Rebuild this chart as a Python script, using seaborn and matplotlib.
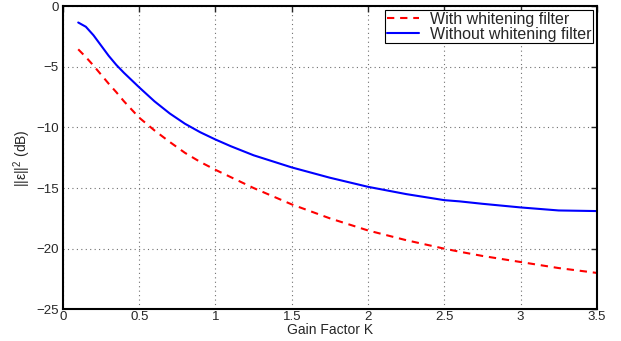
import numpy as np
import pandas as pd
import matplotlib
matplotlib.use("Agg")
import matplotlib.pyplot as plt
import seaborn as sns

# gain factor K (same grid for both curves)
gain_k = [0.1, 0.15, 0.2, 0.25, 0.3, 0.35, 0.4, 0.5, 0.6, 0.7, 0.8, 0.9, 1.0, 1.1,
          1.25, 1.5, 1.75, 2.0, 2.25, 2.5, 2.6, 2.75, 3.0, 3.1, 3.25, 3.5]
# ||eps||^2 in dB
err_with = [-3.56, -4.2, -4.9, -5.65, -6.4, -7.1, -7.85, -9.2, -10.25, -11.2, -12.1,
            -12.85, -13.5, -14.1, -15.0, -16.35, -17.5, -18.5, -19.3, -20.0, -20.25,
            -20.6, -21.1, -21.3, -21.6, -22.0]
err_without = [-1.35, -1.7, -2.4, -3.25, -4.1, -4.85, -5.5, -6.7, -7.85, -8.85, -9.7,
               -10.4, -11.0, -11.55, -12.3, -13.3, -14.15, -14.9, -15.5, -16.0, -16.1,
               -16.3, -16.6, -16.7, -16.85, -16.9]

sns.set_style("white")
plt.rcParams['font.family'] = ['Liberation Sans', 'DejaVu Sans']
plt.rcParams['mathtext.fontset'] = 'custom'
plt.rcParams['mathtext.rm'] = 'Liberation Sans'

fig = plt.figure(figsize=(6.21, 3.41), dpi=100)
ax = fig.add_axes([0.1014, 0.093, 0.8596, 0.889])

df = pd.DataFrame({'K': gain_k, 'with': err_with, 'without': err_without})
sns.lineplot(data=df, x='K', y='with', ax=ax, color='red', linewidth=1.5,
             label='With whitening filter')
ax.lines[-1].set_dashes([3.5, 2.8])
sns.lineplot(data=df, x='K', y='without', ax=ax, color='blue', linewidth=1.5,
             label='Without whitening filter')

ax.set_xlim(0, 3.5)
ax.set_ylim(-25, 0)
ax.set_xticks(np.arange(0, 3.51, 0.5))
ax.set_xticklabels(['0', '0.5', '1', '1.5', '2', '2.5', '3', '3.5'], fontsize=9.5)
ax.set_yticks(np.arange(-25, 0.1, 5))
ax.set_yticklabels(['\u221225', '\u221220', '\u221215', '\u221210', '\u22125', '0'], fontsize=9.5)
ax.grid(True, color='#707070', linewidth=0.8, dashes=(1, 3))
ax.tick_params(axis='x', direction='in', top=True, length=4, width=1, pad=1.5)
ax.tick_params(axis='y', direction='in', right=True, length=4, width=1, pad=3)
for s in ax.spines.values():
    s.set_linewidth(1.5)
    s.set_color('black')
ax.set_xlabel('Gain Factor K', fontsize=10, labelpad=0)
ax.set_ylabel('||\u03b5||$^2$ (dB)', fontsize=10, labelpad=2)

leg = ax.legend(loc='upper right', frameon=True, fancybox=False, borderaxespad=0.25,
                handlelength=2.0, handletextpad=0.7, borderpad=0.1,
                labelspacing=0.0, fontsize=11.5)
leg.get_frame().set_edgecolor('black')
leg.get_frame().set_linewidth(0.8)
leg.get_frame().set_alpha(1)

fig.savefig('out.png', dpi=100)
